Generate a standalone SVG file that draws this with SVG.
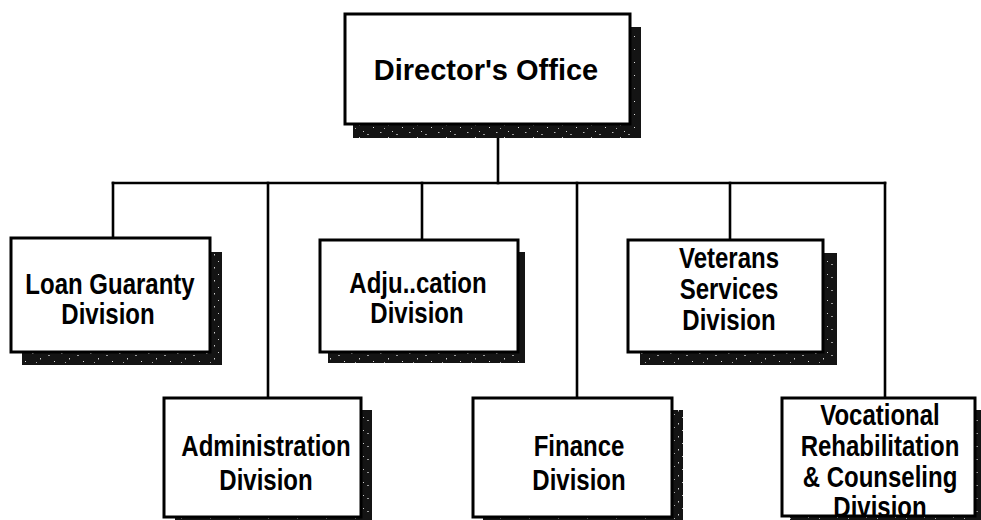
<svg xmlns="http://www.w3.org/2000/svg" width="981" height="520" viewBox="0 0 981 520">
  <style>
    .box { fill: #ffffff; stroke: #000000; stroke-width: 3; }
    .shadow { fill: #141414; }
    .grain { fill: url(#grain); }
    .wire { fill: none; stroke: #000000; stroke-width: 2.6; stroke-linecap: square; }
    .lbl { font-family: "Liberation Sans", Arial, Helvetica, sans-serif; font-weight: bold; font-size: 30px; fill: #000000; text-anchor: middle; }
    .title { font-family: "Liberation Sans", Arial, Helvetica, sans-serif; font-weight: bold; font-size: 29px; fill: #000000; text-anchor: middle; }
  </style>
  <defs>
    <!-- speckled texture for the drop shadows -->
    <pattern id="grain" width="29" height="13" patternUnits="userSpaceOnUse">
      <rect x="3" y="2" width="1.5" height="1" fill="#bbbbbb"/>
      <rect x="11" y="7" width="1" height="1.5" fill="#cccccc"/>
      <rect x="19" y="4" width="2" height="1" fill="#999999"/>
      <rect x="25" y="10" width="1" height="1" fill="#dddddd"/>
      <rect x="7" y="11" width="1" height="1" fill="#aaaaaa"/>
      <rect x="15" y="1" width="1" height="1" fill="#cccccc"/>
    </pattern>
  </defs>

  <rect width="981" height="520" fill="#ffffff"/>

  <!-- reporting lines -->
  <g id="connectors">
    <path class="wire" d="M498 124 V183"/>
    <path class="wire" d="M113 183 H885"/>
    <path class="wire" d="M113 183 V238"/>
    <path class="wire" d="M268 183 V398"/>
    <path class="wire" d="M422 183 V240"/>
    <path class="wire" d="M577 183 V398"/>
    <path class="wire" d="M730 183 V240"/>
    <path class="wire" d="M885 183 V398"/>
  </g>

  <g id="directors-office">
    <rect class="shadow" x="353" y="27" width="288" height="111"/>
    <rect class="grain" x="353" y="27" width="288" height="111"/>
    <rect class="box" x="345" y="14" width="285" height="110"/>
    <text class="title" x="486" y="80">Director's Office</text>
  </g>

  <g id="loan-guaranty">
    <rect class="shadow" x="22" y="252" width="200" height="113"/>
    <rect class="grain" x="22" y="252" width="200" height="113"/>
    <rect class="box" x="11" y="238" width="199" height="114"/>
    <g transform="translate(110 0) scale(0.8 1)"><text class="lbl" x="0" y="294">Loan Guaranty</text></g>
    <g transform="translate(108 0) scale(0.8 1)"><text class="lbl" x="0" y="324">Division</text></g>
  </g>

  <g id="adjudication">
    <rect class="shadow" x="328" y="252" width="197" height="111"/>
    <rect class="grain" x="328" y="252" width="197" height="111"/>
    <rect class="box" x="320" y="240" width="198" height="112"/>
    <g transform="translate(418 0) scale(0.8 1)"><text class="lbl" x="0" y="293">Adju..cation</text></g>
    <g transform="translate(417 0) scale(0.8 1)"><text class="lbl" x="0" y="323">Division</text></g>
  </g>

  <g id="veterans-services">
    <rect class="shadow" x="640" y="253" width="197" height="112"/>
    <rect class="grain" x="640" y="253" width="197" height="112"/>
    <rect class="box" x="628" y="240" width="195" height="112"/>
    <g transform="translate(729 0) scale(0.8 1)">
      <text class="lbl" x="0" y="268">Veterans</text>
      <text class="lbl" x="0" y="299">Services</text>
      <text class="lbl" x="0" y="330">Division</text>
    </g>
  </g>

  <g id="administration">
    <rect class="shadow" x="175" y="410" width="197" height="118"/>
    <rect class="grain" x="175" y="410" width="197" height="118"/>
    <rect class="box" x="164" y="398" width="197" height="119"/>
    <g transform="translate(266 0) scale(0.8 1)">
      <text class="lbl" x="0" y="456">Administration</text>
      <text class="lbl" x="0" y="490">Division</text>
    </g>
  </g>

  <g id="finance">
    <rect class="shadow" x="483" y="410" width="200" height="118"/>
    <rect class="grain" x="483" y="410" width="200" height="118"/>
    <rect class="box" x="473" y="398" width="199" height="119"/>
    <g transform="translate(579 0) scale(0.8 1)">
      <text class="lbl" x="0" y="456">Finance</text>
      <text class="lbl" x="0" y="490">Division</text>
    </g>
  </g>

  <g id="vocational-rehabilitation">
    <rect class="shadow" x="790" y="410" width="195" height="118"/>
    <rect class="grain" x="790" y="410" width="195" height="118"/>
    <rect class="box" x="782" y="398" width="193" height="118"/>
    <g transform="translate(880 0) scale(0.8 1)">
      <text class="lbl" x="0" y="425">Vocational</text>
      <text class="lbl" x="0" y="456">Rehabilitation</text>
      <text class="lbl" x="0" y="487">&amp; Counseling</text>
      <text class="lbl" x="0" y="517">Division</text>
    </g>
  </g>
</svg>
